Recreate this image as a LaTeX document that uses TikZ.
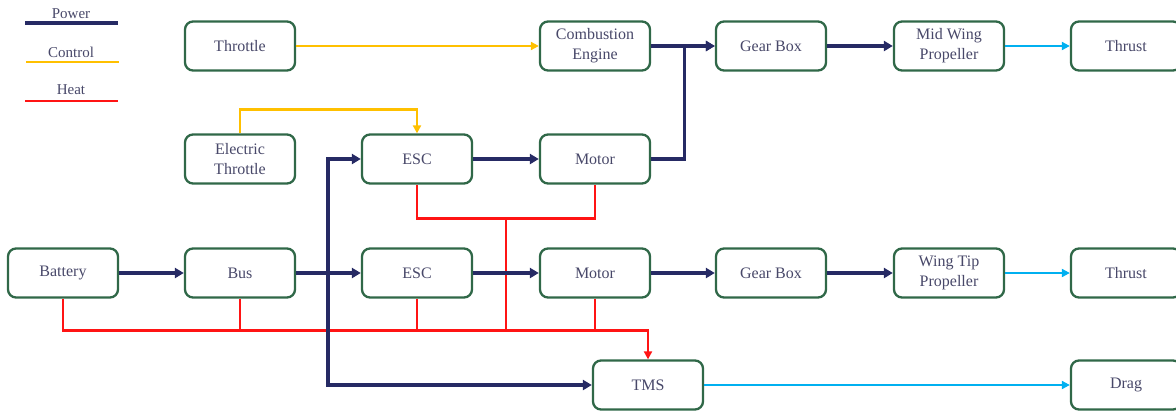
\documentclass[tikz,border=0pt]{standalone}
\usepackage{fontspec}
\setmainfont{Liberation Serif}
\usetikzlibrary{arrows.meta}
\definecolor{boxgreen}{RGB}{48,104,72}
\definecolor{txt}{RGB}{72,72,105}
\definecolor{power}{RGB}{38,42,100}
\definecolor{control}{RGB}{255,192,0}
\definecolor{heat}{RGB}{255,20,20}
\definecolor{flow}{RGB}{0,176,240}
\tikzset{
  blk/.style={draw=boxgreen, line width=2.3pt, rounded corners=8pt, fill=white,
    minimum width=110pt, minimum height=49pt, align=center, text=txt,
    font=\fontsize{16}{20}\selectfont, inner sep=2pt},
  pw/.style={draw=power, line width=3.2pt, -{Triangle[length=9pt,width=10pt]}},
  pwl/.style={draw=power, line width=3.2pt},
  ctl/.style={draw=control, line width=2.6pt, -{Triangle[length=8pt,width=8pt]}},
  ht/.style={draw=heat, line width=2.6pt},
  hta/.style={ht, -{Triangle[length=8pt,width=8pt]}},
  fl/.style={draw=flow, line width=2.4pt, -{Triangle[length=8pt,width=8pt]}},
  leg/.style={text=txt, font=\fontsize{15}{16}\selectfont, inner sep=1pt}
}
\begin{document}
\begin{tikzpicture}[x=1pt,y=-1pt]
\useasboundingbox (0,0) rectangle (1176,410);

% legend
\node[leg] (lp) at (71,14) {Power};
\draw[pwl] (25,23) -- (118,23);
\node[leg] (lc) at (71,52) {Control};
\draw[draw=control,line width=2.6pt] (26,62) -- (119,62);
\node[leg] (lh) at (71,90) {Heat};
\draw[ht] (25,101) -- (118,101);

% top row
\node[blk] (thr) at (240,46) {Throttle};
\node[blk] (ce)  at (595,46) {Combustion\\Engine};
\node[blk] (gb1) at (771,46) {Gear Box};
\node[blk] (mwp) at (949,46) {Mid Wing\\Propeller};
\node[blk] (th1) at (1126,46) {Thrust};

% second row
\node[blk] (eth)  at (240,159) {Electric\\Throttle};
\node[blk] (esc1) at (417,159) {ESC};
\node[blk] (mot1) at (595,159) {Motor};

% third row
\node[blk] (bat)  at (63,273) {Battery};
\node[blk] (bus)  at (240,273) {Bus};
\node[blk] (esc2) at (417,273) {ESC};
\node[blk] (mot2) at (595,273) {Motor};
\node[blk] (gb2)  at (771,273) {Gear Box};
\node[blk] (wtp)  at (949,273) {Wing Tip\\Propeller};
\node[blk] (th2)  at (1126,273) {Thrust};

% bottom row
\node[blk] (tms)  at (648,385) {TMS};
\node[blk] (drag) at (1126,385) {Drag};

% control lines
\draw[ctl] (thr.east) -- (ce.west);
\draw[ctl] (eth.north) -- ++(0,-24) -| (esc1.north);

% heat collection
\draw[ht] (esc1.south) -- ++(0,34) coordinate (hu) -| (mot1.south);
\coordinate (hm) at (506,218);
\draw[hta] (bat.south) -- ++(0,32) coordinate (hb) -| (tms.north);
\draw[ht] (hm) -- (hm |- hb);
\draw[ht] (bus.south) -- (bus.south |- hb);
\draw[ht] (esc2.south) -- (esc2.south |- hb);
\draw[ht] (mot2.south) -- (mot2.south |- hb);

% power lines
\coordinate (jv) at (328,273);
\draw[pw] (bat.east) -- (bus.west);
\draw[pw] (bus.east) -- (esc2.west);
\draw[pw] (jv) |- (esc1.west);
\draw[pw] (jv) |- (tms.west);
\draw[pw] (esc1.east) -- (mot1.west);
\draw[pw] (esc2.east) -- (mot2.west);
\draw[pw] (ce.east) -- (gb1.west);
\draw[pw] (mot1.east) -- ++(33,0) |- (gb1.west);
\draw[pw] (gb1.east) -- (mwp.west);
\draw[pw] (mot2.east) -- (gb2.west);
\draw[pw] (gb2.east) -- (wtp.west);

% output flows
\draw[fl] (mwp.east) -- (th1.west);
\draw[fl] (wtp.east) -- (th2.west);
\draw[fl] (tms.east) -- (drag.west);
\end{tikzpicture}
\end{document}
